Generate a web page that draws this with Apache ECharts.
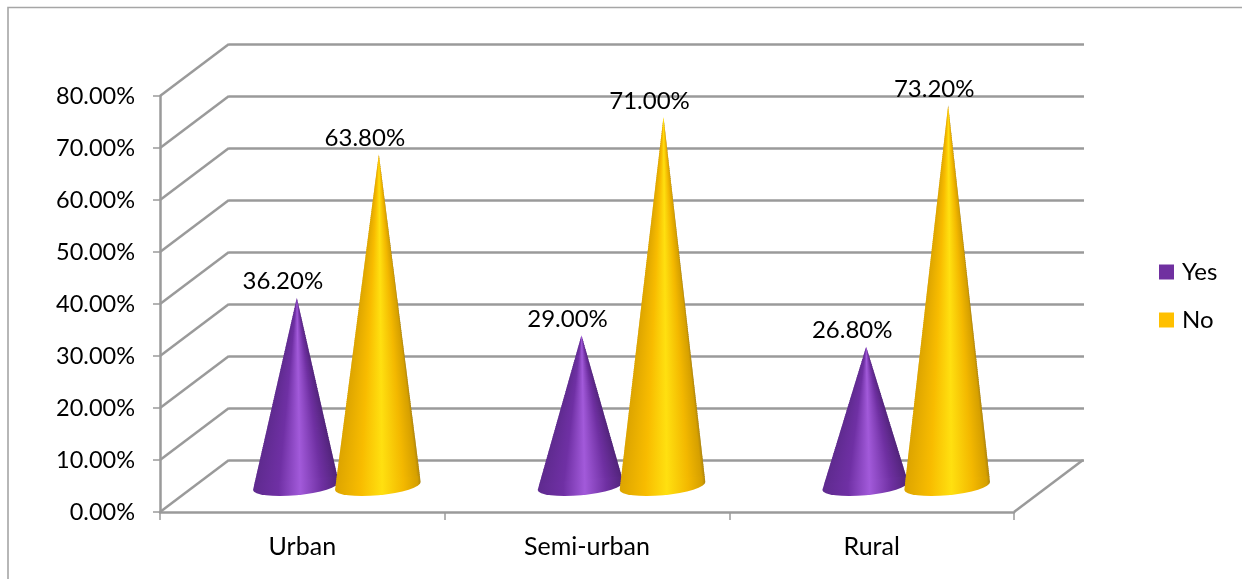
<!DOCTYPE html>
<html>
<head>
<meta charset="utf-8">
<style>html,body{margin:0;padding:0;background:#fff}#chart{width:1242px;height:579px}</style>
<script src="https://cdn.jsdelivr.net/npm/echarts@6/dist/echarts.min.js"></script>
</head>
<body>
<div id="chart"></div>
<script>
// Share of respondents by locality
const categories = ['Urban', 'Semi-urban', 'Rural'];
const yesValues = [36.2, 29.0, 26.8];
const noValues = [63.8, 71.0, 73.2];
const wallTicks = [0, 10, 20, 30, 40, 50, 60, 70, 80];

const FONT = 'Lato, Carlito, sans-serif';
const GREY = '#9a9a9a';
// Oblique projection of the 3D box: how far the back wall sits from the front plane
const DEPTH_X = 69, DEPTH_Y = 52;
const CONE_RX = 43, CONE_RY = 9.2, CONE_TILT = -5.3;
const SLICE_HEIGHT = 2;

const pct = v => v.toFixed(2) + '%';

// Shading across the cone, from left rim (0) to right rim (1)
const purpleShade = [
  { offset: 0, color: '#5e2a8e' }, { offset: 0.3, color: '#6f30a4' },
  { offset: 0.55, color: '#a25ada' }, { offset: 0.8, color: '#6f30a2' },
  { offset: 0.97, color: '#55257f' }, { offset: 1, color: '#4c2174' }
];
const yellowShade = [
  { offset: 0, color: '#dca400' }, { offset: 0.3, color: '#f8bc00' },
  { offset: 0.55, color: '#ffe010' }, { offset: 0.8, color: '#f3b800' },
  { offset: 0.96, color: '#d6a000' }, { offset: 1, color: '#ac8410' }
];

const shade = stops => new echarts.graphic.LinearGradient(0, 0, 1, 0, stops);

function coneSeries(name, color, values, side, stops) {
  return {
    type: 'custom',
    name,
    coordinateSystem: 'cartesian2d',
    xAxisIndex: 0,
    yAxisIndex: 0,
    itemStyle: { color },
    z: side < 0 ? 3 : 4,
    data: values.map((v, i) => [i, v]),
    encode: { x: 0, y: 1 },
    renderItem(params, api) {
      const foot = api.coord([api.value(0), 0]);
      const top = api.coord([api.value(0), api.value(1)]);
      const cx = foot[0] + DEPTH_X / 2 + side * 41;
      const cy = foot[1] - DEPTH_Y / 2;
      const tip = [cx + 1, top[1] - DEPTH_Y / 2];
      const t = CONE_TILT * Math.PI / 180;
      const left = [cx - CONE_RX * Math.cos(t), cy - CONE_RX * Math.sin(t)];
      const right = [cx + CONE_RX * Math.cos(t), cy + CONE_RX * Math.sin(t)];
      const along = (p, f) => [tip[0] + (p[0] - tip[0]) * f, tip[1] + (p[1] - tip[1]) * f];

      // Stack of thin bands so the shading narrows towards the tip with the cone
      const count = Math.max(1, Math.round((cy - tip[1]) / SLICE_HEIGHT));
      const children = [];
      for (let i = 0; i < count - 3; i++) {
        const f0 = i / count;
        const f1 = (i + 1.5) / count;
        children.push({
          type: 'polygon',
          shape: { points: [along(left, f0), along(right, f0), along(right, f1), along(left, f1)] },
          style: { fill: shade(stops) }
        });
      }
      // Foot of the cone: the last bands and the front half of the base ellipse in one shape
      const neckL = along(left, (count - 3) / count);
      const neckR = along(right, (count - 3) / count);
      children.push({
        type: 'path',
        shape: { pathData: `M${neckL[0]} ${neckL[1]}L${left[0]} ${left[1]}A${CONE_RX} ${CONE_RY} ${CONE_TILT} 0 0 ${right[0]} ${right[1]}L${neckR[0]} ${neckR[1]}Z` },
        style: { fill: shade(stops) }
      });
      children.push({
        type: 'text',
        style: {
          text: pct(api.value(1)),
          x: cx - 13,
          y: tip[1] - 16,
          align: 'center',
          verticalAlign: 'middle',
          fill: '#000',
          font: `24px ${FONT}`
        }
      });
      return { type: 'group', children };
    }
  };
}

const chart = echarts.init(document.getElementById('chart'), null, { renderer: 'canvas' });
chart.setOption({
  animation: false,
  backgroundColor: '#fff',
  graphic: [{
    type: 'polyline',
    shape: { points: [[8, 579], [8, 7.5], [1242, 7.5]] },
    style: { stroke: '#a6a6a6', fill: null, lineWidth: 1.6 },
    silent: true
  }],
  legend: {
    data: ['Yes', 'No'],
    orient: 'vertical',
    left: 1159,
    top: 260,
    itemWidth: 15,
    itemHeight: 15,
    itemGap: 24,
    icon: 'rect',
    textStyle: { color: '#000', fontFamily: FONT, fontSize: 24, padding: [3, 0, 0, 3] },
    padding: 0
  },
  grid: [
    { left: 160, right: 228, top: 96, bottom: 67 },
    { left: 229, right: 158, top: 44, bottom: 119 }
  ],
  xAxis: [
    {
      type: 'category',
      gridIndex: 0,
      data: categories,
      axisLine: { show: true, onZero: false, lineStyle: { color: GREY, width: 2.5 } },
      axisTick: { show: true, length: 8, lineStyle: { color: GREY, width: 1.5 } },
      axisLabel: { color: '#000', fontFamily: FONT, fontSize: 25, margin: 22 }
    },
    { type: 'category', gridIndex: 1, data: categories, show: false }
  ],
  yAxis: [
    {
      type: 'value',
      gridIndex: 0,
      min: 0,
      max: 80,
      interval: 10,
      axisLine: { show: true, lineStyle: { color: GREY, width: 2.5 } },
      axisTick: { show: true, length: 7, lineStyle: { color: GREY, width: 1.5 } },
      axisLabel: { color: '#000', fontFamily: FONT, fontSize: 23.5, margin: 25, padding: [6, 0, 0, 0], formatter: v => pct(v) },
      splitLine: { show: false }
    },
    {
      type: 'value',
      gridIndex: 1,
      min: 0,
      max: 80,
      interval: 10,
      axisLine: { show: false },
      axisTick: { show: false },
      axisLabel: { show: false },
      splitLine: { show: true, lineStyle: { color: GREY, width: 2.5 } }
    }
  ],
  series: [
    {
      type: 'custom',
      name: 'walls',
      xAxisIndex: 0,
      yAxisIndex: 0,
      z: 1,
      silent: true,
      data: wallTicks.map(v => [0, v]),
      encode: { x: 0, y: 1 },
      renderItem(params, api) {
        const y = api.coord([0, api.value(1)])[1];
        const x0 = params.coordSys.x;
        const x1 = x0 + params.coordSys.width;
        const line = x => ({
          type: 'line',
          shape: { x1: x, y1: y, x2: x + DEPTH_X, y2: y - DEPTH_Y },
          style: { stroke: GREY, lineWidth: 2.5, fill: null }
        });
        const children = [line(x0)];
        if (api.value(1) === 0) children.push(line(x1));
        return { type: 'group', children };
      }
    },
    coneSeries('Yes', '#7030a0', yesValues, -1, purpleShade),
    coneSeries('No', '#ffc000', noValues, 1, yellowShade)
  ]
});
</script>
</body>
</html>
